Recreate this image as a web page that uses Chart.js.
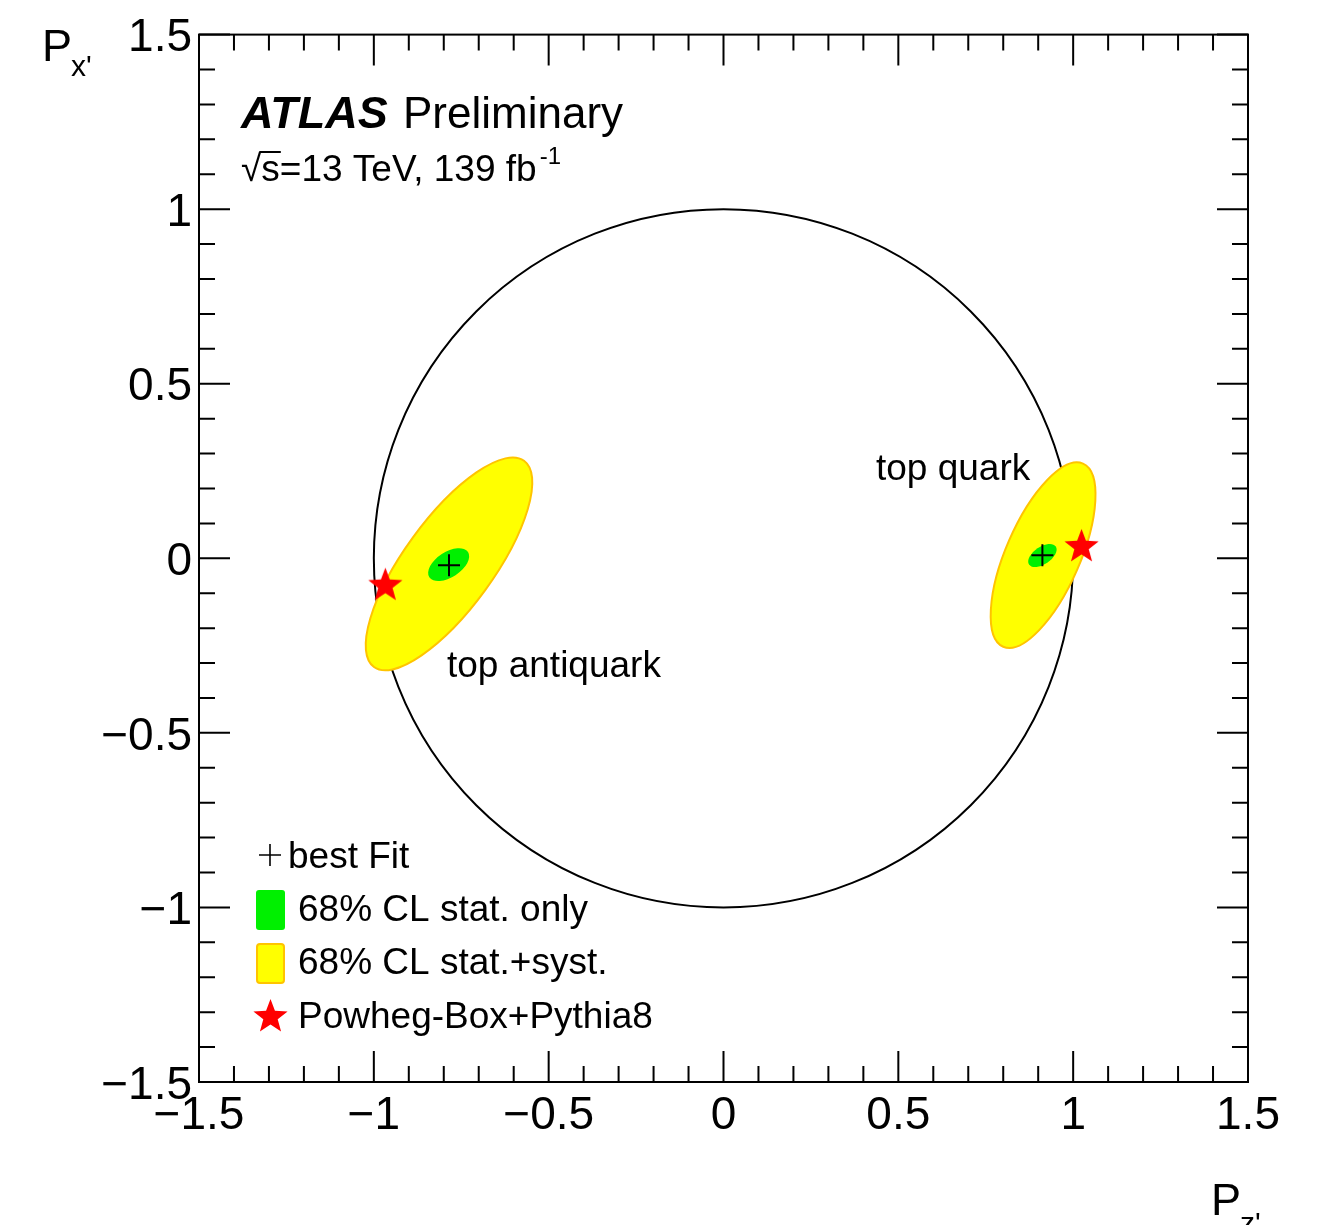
<!DOCTYPE html>
<html><head><meta charset="utf-8">
<script src="https://cdn.jsdelivr.net/npm/chart.js@4.4.0/dist/chart.umd.min.js"></script>
<style>html,body{margin:0;padding:0;background:#fff;}canvas{display:block;}</style>
</head><body>
<canvas id="c" width="1327" height="1225"></canvas>
<script>
// ---- data ----
const tickValues = [-1.5, -1, -0.5, 0, 0.5, 1, 1.5];
const tickLabels = ['\u22121.5', '\u22121', '\u22120.5', '0', '0.5', '1', '1.5'];
const regionNames = ['top antiquark', 'top quark'];
const bestFitX = [-0.785, 0.912];
const bestFitY = [-0.020, 0.009];
const powhegX = [-0.967, 1.024];
const powhegY = [-0.074, 0.037];
const systCenterX = [-0.785, 0.914];
const systCenterY = [-0.016, 0.009];
const systSemiMajor = [0.365, 0.286];
const systSemiMinor = [0.128, 0.106];
const systAngleDeg = [54, 66.5];
const statCenterX = [-0.786, 0.912];
const statCenterY = [-0.018, 0.008];
const statSemiMajor = [0.066, 0.046];
const statSemiMinor = [0.036, 0.025];
const statAngleDeg = [33, 34];
const unitCircleRadius = [1];
const legendLabels = ['best Fit', '68% CL stat. only', '68% CL stat.+syst.', 'Powheg-Box+Pythia8'];

const FONT = "'Liberation Sans', Arial, Helvetica, sans-serif";
const GREEN = '#00f000', YELLOW = '#ffff00', ORANGE = '#ffc400', RED = '#ff0000';

function makeStar(size) {
  const c = document.createElement('canvas');
  c.width = size; c.height = size;
  const g = c.getContext('2d');
  const R = size / 2 - 0.5, r = R * 0.42, cx = size / 2, cy = size / 2 + R * 0.08;
  g.beginPath();
  for (let i = 0; i < 10; i++) {
    const rad = i % 2 === 0 ? R : r;
    const a = -Math.PI / 2 + i * Math.PI / 5;
    const px = cx + rad * Math.cos(a), py = cy + rad * Math.sin(a);
    if (i === 0) g.moveTo(px, py); else g.lineTo(px, py);
  }
  g.closePath();
  g.fillStyle = RED;
  g.fill();
  return c;
}
const starImg = makeStar(37);

function dataEllipsePath(ctx, xs, ys, cx, cy, a, b, angDeg) {
  const px = xs.getPixelForValue(cx), py = ys.getPixelForValue(cy);
  const sx = xs.getPixelForValue(1) - xs.getPixelForValue(0);
  const sy = ys.getPixelForValue(0) - ys.getPixelForValue(1);
  ctx.save();
  ctx.translate(px, py);
  ctx.scale(sx, -sy);
  ctx.rotate(angDeg * Math.PI / 180);
  ctx.beginPath();
  ctx.ellipse(0, 0, a, b, 0, 0, 2 * Math.PI);
  ctx.restore();
}

const regionsPlugin = {
  id: 'regions',
  beforeDatasetsDraw(chart) {
    const ctx = chart.ctx, xs = chart.scales.x, ys = chart.scales.y;
    const ca = chart.chartArea;
    ctx.save();
    ctx.beginPath(); ctx.rect(ca.left, ca.top, ca.right - ca.left, ca.bottom - ca.top); ctx.clip();
    unitCircleRadius.forEach(r => {
      dataEllipsePath(ctx, xs, ys, 0, 0, r, r, 0);
      ctx.lineWidth = 2; ctx.strokeStyle = '#000'; ctx.stroke();
    });
    for (let i = 0; i < systCenterX.length; i++) {
      dataEllipsePath(ctx, xs, ys, systCenterX[i], systCenterY[i], systSemiMajor[i], systSemiMinor[i], systAngleDeg[i]);
      ctx.fillStyle = YELLOW; ctx.fill();
      ctx.lineWidth = 2; ctx.strokeStyle = ORANGE; ctx.stroke();
    }
    for (let i = 0; i < statCenterX.length; i++) {
      dataEllipsePath(ctx, xs, ys, statCenterX[i], statCenterY[i], statSemiMajor[i], statSemiMinor[i], statAngleDeg[i]);
      ctx.fillStyle = GREEN; ctx.fill();
    }
    ctx.restore();
  },
  afterDraw(chart) {
    const ctx = chart.ctx, xs = chart.scales.x, ys = chart.scales.y;
    const ca = chart.chartArea;
    ctx.save();
    ctx.strokeStyle = '#000'; ctx.lineWidth = 2;
    ctx.strokeRect(ca.left, ca.top, ca.right - ca.left, ca.bottom - ca.top);
    ctx.beginPath();
    for (let i = -15; i <= 15; i++) {
      const v = i / 10;
      const len = (i % 5 === 0) ? 31 : 16;
      const px = xs.getPixelForValue(v), py = ys.getPixelForValue(v);
      ctx.moveTo(px, ca.bottom); ctx.lineTo(px, ca.bottom - len);
      ctx.moveTo(px, ca.top); ctx.lineTo(px, ca.top + len);
      ctx.moveTo(ca.left, py); ctx.lineTo(ca.left + len, py);
      ctx.moveTo(ca.right, py); ctx.lineTo(ca.right - len, py);
    }
    ctx.stroke();

    ctx.fillStyle = '#000';
    ctx.textBaseline = 'alphabetic';
    ctx.textAlign = 'left';
    ctx.font = 'italic bold 45px ' + FONT;
    ctx.fillText('ATLAS', 241, 128);
    ctx.font = '44px ' + FONT;
    ctx.fillText('Preliminary', 403, 128);
    ctx.font = '37px ' + FONT;
    const rootW = ctx.measureText('\u221A').width;
    const sW = ctx.measureText('s').width;
    ctx.fillText('\u221As=13 TeV, 139 fb', 241, 181);
    const lineW = ctx.measureText('\u221As=13 TeV, 139 fb').width;
    ctx.lineWidth = 2;
    ctx.beginPath(); ctx.moveTo(241 + rootW - 2, 152); ctx.lineTo(241 + rootW + sW + 1, 152); ctx.stroke();
    ctx.font = '24px ' + FONT;
    ctx.fillText('-1', 241 + lineW + 3, 164);

    ctx.font = '37px ' + FONT;
    ctx.fillText(regionNames[1], 876, 480);
    ctx.fillText(regionNames[0], 447, 677);

    ctx.font = '45px ' + FONT;
    ctx.fillText('P', 42, 61);
    ctx.fillText('P', 1211, 1215);
    ctx.font = '30px ' + FONT;
    ctx.fillText("x'", 71, 76);
    ctx.fillText("z'", 1240, 1233);

    const lx = 270, rows = [855, 908, 961, 1015];
    ctx.lineWidth = 1.6; ctx.strokeStyle = '#000';
    ctx.beginPath();
    ctx.moveTo(lx - 11, rows[0]); ctx.lineTo(lx + 11, rows[0]);
    ctx.moveTo(lx, rows[0] - 11); ctx.lineTo(lx, rows[0] + 11);
    ctx.stroke();
    ctx.fillStyle = GREEN;
    ctx.beginPath(); ctx.roundRect(256, 890, 29, 40, 3); ctx.fill();
    ctx.fillStyle = YELLOW; ctx.strokeStyle = ORANGE; ctx.lineWidth = 2;
    ctx.beginPath(); ctx.roundRect(257, 944, 27, 39, 3); ctx.fill(); ctx.stroke();
    ctx.drawImage(starImg, lx - 18, rows[3] - 18);
    ctx.fillStyle = '#000';
    ctx.font = '37px ' + FONT;
    ctx.fillText(legendLabels[0], 288, rows[0] + 13);
    for (let i = 1; i < 4; i++) ctx.fillText(legendLabels[i], 298, rows[i] + 13);
    ctx.restore();
  }
};

const tickFont = { family: FONT, size: 46 };
function setTicks(scale) { scale.ticks = tickValues.map(v => ({ value: v })); }
function labelFor(v) { const i = tickValues.findIndex(t => Math.abs(t - v) < 1e-9); return i >= 0 ? tickLabels[i] : ''; }

new Chart(document.getElementById('c'), {
  type: 'scatter',
  data: {
    datasets: [
      {
        label: 'best Fit',
        data: bestFitX.map((x, i) => ({ x, y: bestFitY[i] })),
        pointStyle: 'cross', radius: 11, borderColor: '#000', borderWidth: 2, backgroundColor: '#000'
      },
      {
        label: 'Powheg-Box+Pythia8',
        data: powhegX.map((x, i) => ({ x, y: powhegY[i] })),
        pointStyle: starImg, radius: 18
      }
    ]
  },
  options: {
    responsive: false,
    animation: false,
    devicePixelRatio: 1,
    layout: { padding: { top: 34, right: 79, left: 0, bottom: 0 } },
    plugins: { legend: { display: false }, tooltip: { enabled: false } },
    scales: {
      x: {
        type: 'linear', position: 'bottom', min: -1.5, max: 1.5,
        grid: { display: false, drawTicks: false }, border: { display: false },
        afterBuildTicks: setTicks,
        afterFit(s) { s.height = 143; },
        ticks: { font: tickFont, color: '#000', padding: 7, maxRotation: 0, autoSkip: false, callback: v => labelFor(v) }
      },
      y: {
        type: 'linear', position: 'left', min: -1.5, max: 1.5,
        grid: { display: false, drawTicks: false }, border: { display: false },
        afterBuildTicks: setTicks,
        afterFit(s) { s.width = 199; },
        ticks: { font: tickFont, color: '#000', padding: 7, labelOffset: 4, autoSkip: false, callback: v => labelFor(v) }
      }
    }
  },
  plugins: [regionsPlugin]
});
</script>
</body></html>
